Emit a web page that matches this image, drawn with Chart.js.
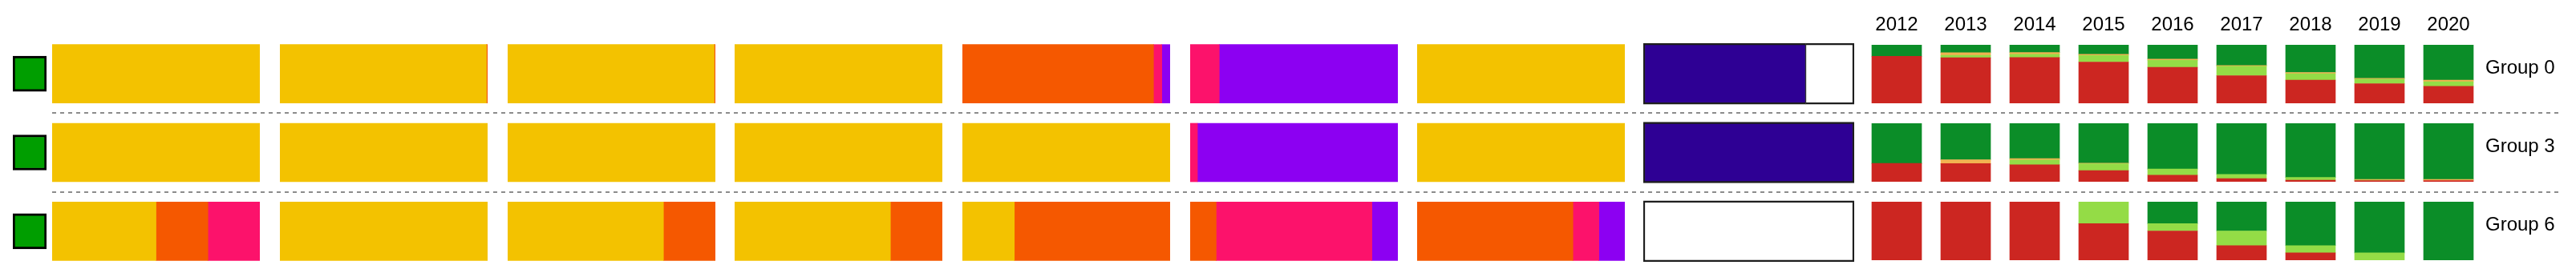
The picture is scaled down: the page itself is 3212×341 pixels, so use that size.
<!DOCTYPE html>
<html>
<head>
<meta charset="utf-8">
<title>Group shares by panel and year</title>
<script src="https://cdn.jsdelivr.net/npm/chart.js@4.4.1/dist/chart.umd.min.js"></script>
<style>
    html, body { margin: 0; padding: 0; background: #fff; }
    #board { position: relative; width: 3212px; height: 341px; overflow: hidden; }
    #board canvas { position: absolute; }
</style>
</head>
<body>
<div id="board"></div>
<script>
const groups = ["Group 0", "Group 3", "Group 6"];
const years = ["2012", "2013", "2014", "2015", "2016", "2017", "2018", "2019", "2020"];

// marker shown left of every group
const groupStatus = [1, 1, 1];

// share panels, one row per group: yellow, orange, pink, purple
const panel1 = [[1, 0, 0, 0], [1, 0, 0, 0], [0.5, 0.25, 0.25, 0]];
const panel2 = [[0.994, 0.006, 0, 0], [1, 0, 0, 0], [1, 0, 0, 0]];
const panel3 = [[0.994, 0.006, 0, 0], [1, 0, 0, 0], [0.75, 0.25, 0, 0]];
const panel4 = [[1, 0, 0, 0], [1, 0, 0, 0], [0.75, 0.25, 0, 0]];
const panel5 = [[0, 0.92, 0.04, 0.04], [1, 0, 0, 0], [0.25, 0.75, 0, 0]];
const panel6 = [[0, 0, 0.14, 0.86], [0, 0, 0.035, 0.965], [0, 0.125, 0.75, 0.125]];
const panel7 = [[1, 0, 0, 0], [1, 0, 0, 0], [0, 0.75, 0.125, 0.125]];

// last panel: filled part and the empty remainder
const filledShare = [0.77, 1, 0];
const emptyShare = [0.23, 0, 1];

// yearly split per group: red, light green, amber, green
const group0Red = [0.805, 0.78, 0.782, 0.705, 0.615, 0.473, 0.397, 0.336, 0.291];
const group0Light = [0, 0.04, 0.055, 0.114, 0.12, 0.159, 0.11, 0.077, 0.077];
const group0Amber = [0, 0.045, 0.032, 0.018, 0.02, 0.014, 0.02, 0.015, 0.027];
const group0Green = [0.195, 0.135, 0.131, 0.163, 0.245, 0.354, 0.473, 0.572, 0.605];

const group3Red = [0.314, 0.309, 0.291, 0.19, 0.113, 0.055, 0.028, 0.02, 0.02];
const group3Light = [0, 0, 0.082, 0.118, 0.105, 0.072, 0.045, 0.005, 0];
const group3Amber = [0, 0.068, 0.023, 0.01, 0, 0, 0, 0.015, 0.02];
const group3Green = [0.686, 0.623, 0.604, 0.682, 0.782, 0.873, 0.927, 0.96, 0.96];

const group6Red = [1, 1, 1, 0.625, 0.5, 0.25, 0.125, 0, 0];
const group6Light = [0, 0, 0, 0.375, 0.125, 0.25, 0.125, 0.125, 0];
const group6Amber = [0, 0, 0, 0, 0, 0, 0, 0, 0];
const group6Green = [0, 0, 0, 0, 0.375, 0.5, 0.75, 0.875, 1];

const panelColours = ["#f3c200", "#f55800", "#fc126b", "#8c00f2"];
const yearColours = ["#cc2621", "#94dc46", "#f2b250", "#0b8d28"];

Chart.defaults.font.family = "'Liberation Sans', Arial, Helvetica, sans-serif";
Chart.defaults.animation = false;
Chart.defaults.responsive = false;
Chart.defaults.plugins.legend.display = false;
Chart.defaults.plugins.tooltip.enabled = false;
Chart.defaults.layout.padding = 0;

const board = document.getElementById("board");

function makeCanvas(left, top, width, height) {
    const canvas = document.createElement("canvas");
    canvas.width = width;
    canvas.height = height;
    canvas.style.left = left + "px";
    canvas.style.top = top + "px";
    canvas.style.width = width + "px";
    canvas.style.height = height + "px";
    board.appendChild(canvas);
    return canvas;
}

// dashed separators between the groups
new Chart(makeCanvas(65, 43, 3128, 295), {
    type: "bar",
    data: {labels: groups, datasets: []},
    options: {
        indexAxis: "y",
        scales: {
            x: {display: false},
            y: {
                type: "category",
                offset: true,
                grid: {
                    offset: true,
                    drawTicks: false,
                    lineWidth: 2,
                    color: ctx => (ctx.index > 0 ? "#8c8c8c" : "transparent")
                },
                border: {display: false, dash: [5, 5]},
                ticks: {display: false},
                afterFit: s => { s.width = 0; }
            }
        }
    }
});

// green markers
new Chart(makeCanvas(16, 43, 42, 295), {
    type: "bar",
    data: {
        labels: groups,
        datasets: [{
            data: groupStatus,
            backgroundColor: "#009e00",
            borderColor: "#000",
            borderWidth: 3,
            borderSkipped: false,
            barThickness: 44
        }]
    },
    options: {
        indexAxis: "y",
        scales: {
            x: {display: false, min: 0, max: 1},
            y: {display: false}
        }
    }
});

function panelChart(left, rows) {
    new Chart(makeCanvas(left, 43, 259, 295), {
        type: "bar",
        data: {
            labels: groups,
            datasets: panelColours.map((colour, c) => ({
                data: rows.map(row => row[c] || null),
                backgroundColor: colour,
                borderWidth: 0,
                barThickness: 73
            }))
        },
        options: {
            indexAxis: "y",
            scales: {
                x: {display: false, stacked: true, min: 0, max: 1},
                y: {display: false, stacked: true}
            }
        }
    });
}

const panels = [panel1, panel2, panel3, panel4, panel5, panel6, panel7];
const panelLefts = [65, 349, 633, 916, 1200, 1484, 1767];
panels.forEach((rows, i) => panelChart(panelLefts[i], rows));

// framed panel
new Chart(makeCanvas(2049, 43, 263, 295), {
    type: "bar",
    data: {
        labels: groups,
        datasets: [{
            data: filledShare.map(v => v || null),
            backgroundColor: "#2e0094",
            borderColor: "#1e1e1e",
            borderSkipped: false,
            borderWidth: ctx => ({top: 2.5, bottom: 2.5, left: 2.5, right: emptyShare[ctx.dataIndex] ? 1 : 2.5}),
            barThickness: 76
        }, {
            data: emptyShare.map(v => v || null),
            backgroundColor: "#ffffff",
            borderColor: "#1e1e1e",
            borderSkipped: false,
            borderWidth: ctx => ({top: 2.5, bottom: 2.5, right: 2.5, left: filledShare[ctx.dataIndex] ? 1 : 2.5}),
            barThickness: 76
        }]
    },
    options: {
        indexAxis: "y",
        scales: {
            x: {display: false, stacked: true, min: 0, max: 1},
            y: {display: false, stacked: true}
        }
    }
});

const yearSeries = [
    [group0Red, group0Light, group0Amber, group0Green],
    [group3Red, group3Light, group3Amber, group3Green],
    [group6Red, group6Light, group6Amber, group6Green]
];

function yearChart(index, top, height) {
    const showYears = index === 0;
    const x = showYears ? {
        position: "top",
        stacked: true,
        grid: {display: false, drawTicks: false},
        border: {display: false},
        ticks: {font: {size: 24}, color: "#000", padding: 10, maxRotation: 0, autoSkip: false},
        afterFit: s => { s.height = 56; }
    } : {display: false, stacked: true};

    new Chart(makeCanvas(2322, top, 890, height), {
        type: "bar",
        data: {
            labels: years,
            datasets: yearSeries[index].map((values, c) => ({
                data: values.map(v => v || null),
                backgroundColor: yearColours[c],
                borderWidth: 0,
                barThickness: 62
            }))
        },
        options: {
            scales: {
                x: x,
                y: {display: false, stacked: true, min: 0, max: 1},
                side: {
                    type: "category",
                    labels: [groups[index]],
                    offset: true,
                    position: "right",
                    grid: {display: false, drawTicks: false},
                    border: {display: false},
                    ticks: {font: {size: 24}, color: "#000", padding: 3, labelOffset: -7},
                    afterFit: s => {
                        s.width = 116;
                        s.paddingTop = 0;
                        s.paddingBottom = 0;
                    }
                }
            }
        }
    });
}

yearChart(0, 0, 129);
yearChart(1, 154, 73);
yearChart(2, 252, 73);
</script>
</body>
</html>
